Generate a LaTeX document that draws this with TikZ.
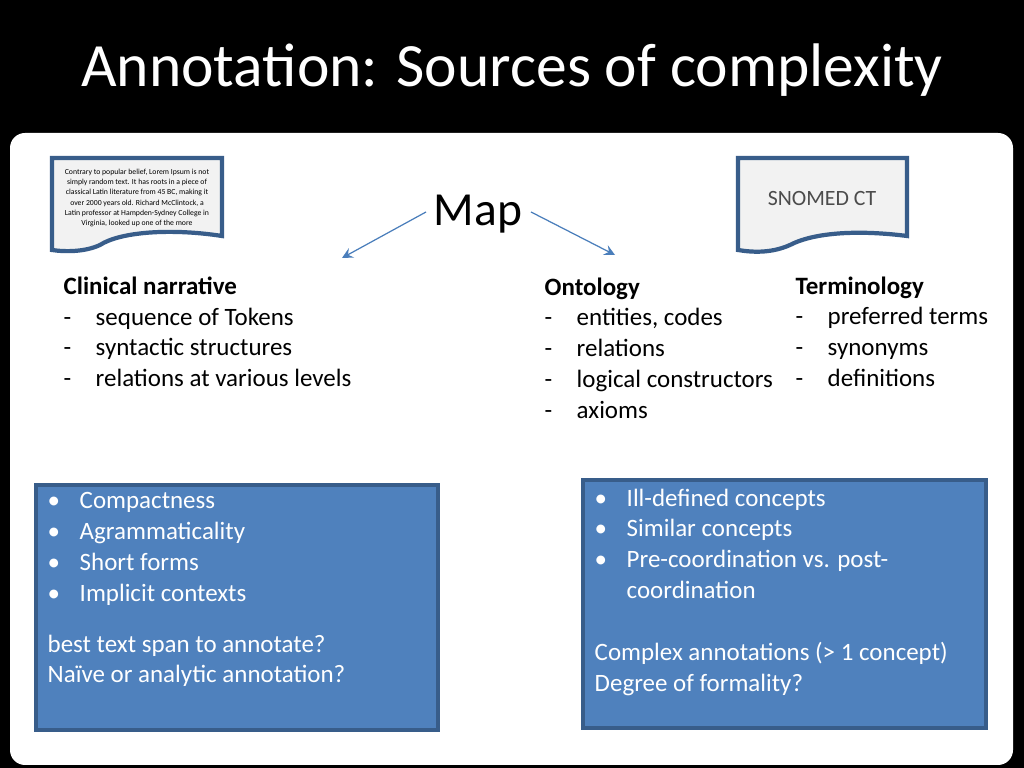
\documentclass[tikz,border=0pt]{standalone}
\usepackage{fontspec}
\setmainfont{Carlito}
\definecolor{boxblue}{HTML}{4F81BD}
\definecolor{boxline}{HTML}{385D8A}
\definecolor{docfill}{HTML}{F2F2F2}
\definecolor{arrowblue}{HTML}{4A7EBB}
\newcommand{\bul}{\makebox[0.32cm][l]{•}}
\newcommand{\dsh}{\makebox[0.32cm][l]{-}}
\begin{document}
\begin{tikzpicture}[x=0.01cm,y=-0.01cm]
  \tikzset{body/.style={anchor=north west,align=left,inner sep=0pt,font=\fontsize{7.1}{8.75}\selectfont},
           whitetext/.style={body,text=white},
           doc/.style={draw=boxline,line width=1.2pt,fill=docfill},
           bluebox/.style={draw=boxline,line width=0.9pt,fill=boxblue},
           maparrow/.style={draw=arrowblue,-stealth,line width=0.35pt}}
  \useasboundingbox (0,0) rectangle (1024,768);
  \fill[black] (0,0) rectangle (1024,768);
  \fill[white,rounded corners=0.15cm] (10,133) rectangle (1013,765);
  % title
  \node[text=white,font=\fontsize{17.5}{20}\selectfont] (title) at (512,70) {Annotation: Sources of complexity};
  % documents
  \draw[doc] (52,158) -- (222,158) -- (222,236) .. controls (170,228) and (120,232) .. (100,245) .. controls (85,252) and (65,252) .. (52,250) -- cycle;
  \node[align=center,inner sep=0pt,font=\fontsize{2.2}{2.95}\selectfont] (narrdoc) at (137,198) {Contrary to popular belief, Lorem Ipsum is not\\simply random text. It has roots in a piece of\\classical Latin literature from 45 BC, making it\\over 2000 years old. Richard McClintock, a\\Latin professor at Hampden-Sydney College in\\Virginia, looked up one of the more};
  \draw[doc] (738,158) -- (907,158) -- (907,236) .. controls (860,230) and (815,232) .. (790,245) .. controls (770,254) and (750,252) .. (738,250) -- cycle;
  \node[inner sep=0pt,font=\fontsize{6.2}{7}\selectfont,text=black!70] (snomed) at (822,199) {SNOMED CT};
  % map
  \node[inner sep=0pt,font=\fontsize{13.5}{15}\selectfont] (map) at (478,214) {Map};
  \coordinate (leftend) at (342,258);
  \coordinate (rightend) at (615,255);
  \draw[maparrow] (426,212) -- (leftend);
  \draw[maparrow] (531,212) -- (rightend);
  % lists
  \node[body] (narr) at (63,276) {\textbf{Clinical narrative}\\\dsh sequence of Tokens\\\dsh syntactic structures\\\dsh relations at various levels};
  \node[body] (onto) at (544,277) {\textbf{Ontology}\\\dsh entities, codes\\\dsh relations\\\dsh logical constructors\\\dsh axioms};
  \node[body] (term) at (795,276) {\textbf{Terminology}\\\dsh preferred terms\\\dsh synonyms\\\dsh definitions};
  % blue boxes
  \draw[bluebox] (36,485) rectangle (438,730);
  \draw[bluebox] (583,480) rectangle (986,728);
  \node[whitetext] (leftlist) at (47,492) {\bul Compactness\\\bul Agrammaticality\\\bul Short forms\\\bul Implicit contexts};
  \node[whitetext] (leftq) at (47,634) {best text span to annotate?\\Naïve or analytic annotation?};
  \node[whitetext] (rightlist) at (594,488) {\bul Ill-defined concepts\\\bul Similar concepts\\\bul Pre-coordination vs. post-\\\makebox[0.32cm]{}coordination};
  \node[whitetext] (rightq) at (594,642) {Complex annotations (> 1 concept)\\Degree of formality?};
\end{tikzpicture}
\end{document}
